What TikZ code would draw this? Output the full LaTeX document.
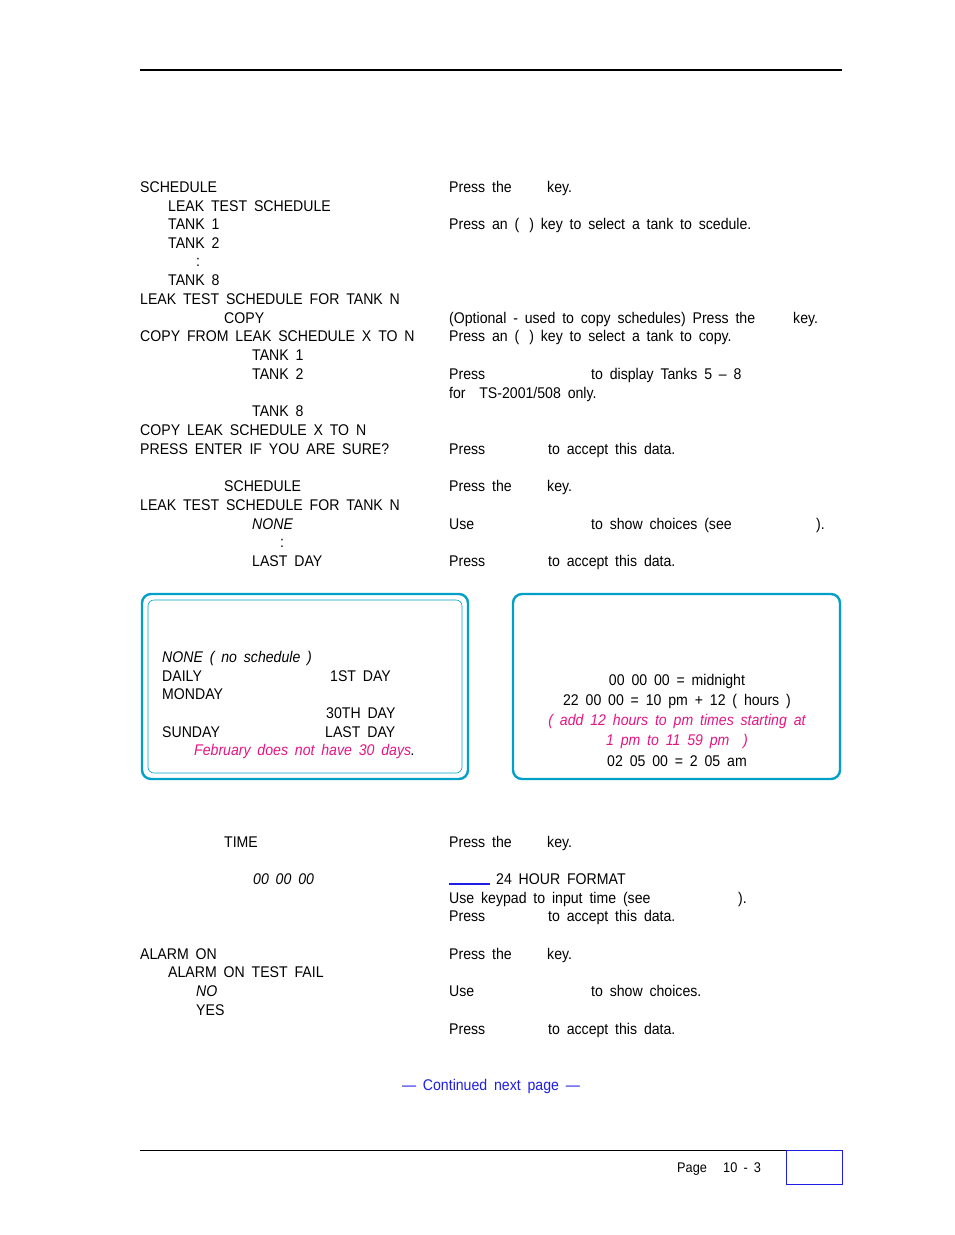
\documentclass[tikz,border=0pt]{standalone}
\usepackage{fontspec}
\setmainfont[FakeStretch=0.91,WordSpace={1.75,0,0}]{Liberation Sans}
\usepackage{xcolor}
\definecolor{boxcyan}{RGB}{0,160,200}
\definecolor{notepink}{RGB}{230,20,130}
\definecolor{linkblue}{RGB}{30,30,230}
\begin{document}
\begin{tikzpicture}[x=1pt,y=-1pt,every node/.style={anchor=base west,inner sep=0pt,font=\fontsize{15.5}{18}\selectfont}]
        \useasboundingbox (0,0) rectangle (954,1235);
        \draw[line width=1.6pt] (140,70) -- (842,70);
        % schedule key
        \node (s1) at (140,192) {SCHEDULE};
        \node (s2) at (168,211) {LEAK TEST SCHEDULE};
        \node (s3) at (168,229) {TANK 1};
        \node (s4) at (168,248) {TANK 2};
        \node (s5) at (196,266) {:};
        \node (s6) at (168,285) {TANK 8};
        \node (s7) at (140,304) {LEAK TEST SCHEDULE FOR TANK N};
        \node (s8) at (224,323) {COPY};
        \node (s9) at (140,341) {COPY FROM LEAK SCHEDULE X TO N};
        \node (s10) at (252,360) {TANK 1};
        \node (s11) at (252,379) {TANK 2};
        \node (s12) at (252,416) {TANK 8};
        \node (s13) at (140,435) {COPY LEAK SCHEDULE X TO N};
        \node (s14) at (140,454) {PRESS ENTER IF YOU ARE SURE?};
        \node (s15) at (224,491) {SCHEDULE};
        \node (s16) at (140,510) {LEAK TEST SCHEDULE FOR TANK N};
        \node (s17) at (252,529) {\itshape NONE};
        \node (s18) at (280,547) {:};
        \node (s19) at (252,566) {LAST DAY};
        % instructions
        \node (r1) at (449,192) {Press the}; \node (r1k) at (547,192) {key.};
        \node (r2) at (449,229) {Press an (\hspace{10pt}) key to select a tank to scedule.};
        \node (r3) at (449,323) {(Optional - used to copy schedules) Press the}; \node (r3k) at (793,323) {key.};
        \node (r4) at (449,341) {Press an (\hspace{10pt}) key to select a tank to copy.};
        \node (r5) at (449,379) {Press}; \node (r5k) at (591,379) {to display Tanks 5 -- 8};
        \node (r6) at (449,398) {for\ \ TS-2001/508 only.};
        \node (r7) at (449,454) {Press}; \node (r7k) at (548,454) {to accept this data.};
        \node (r8) at (449,491) {Press the}; \node (r8k) at (547,491) {key.};
        \node (r9) at (449,529) {Use}; \node (r9k) at (591,529) {to show choices (see}; \node (r9e) at (816,529) {).};
        \node (r10) at (449,566) {Press}; \node (r10k) at (548,566) {to accept this data.};
        % choice boxes
        \draw[boxcyan,line width=2.4pt,rounded corners=9pt] (142,594) rectangle (468,779);
        \draw[boxcyan,line width=0.6pt,rounded corners=6pt] (148,600) rectangle (462,773);
        \node (b1) at (162,662) {\itshape NONE ( no schedule )};
        \node (b2) at (162,681) {DAILY}; \node (b3) at (330,681) {1ST DAY};
        \node (b4) at (162,699) {MONDAY};
        \node (b5) at (326,718) {30TH DAY};
        \node (b6) at (162,737) {SUNDAY}; \node (b7) at (325,737) {LAST DAY};
        \node (b8) at (194,755) {\color{notepink}\itshape February does not have 30 days\color{black}.};
        \draw[boxcyan,line width=2.4pt,rounded corners=9pt] (513,594) rectangle (840,779);
        \node[anchor=base] (t1) at (677,685) {00 00 00 = midnight};
        \node[anchor=base] (t2) at (677,705) {22 00 00 = 10 pm + 12 ( hours )};
        \node[anchor=base,text=notepink,font=\fontsize{15.5}{18}\selectfont\itshape] (t3) at (677,725) {( add 12 hours to pm times starting at};
        \node[anchor=base,text=notepink,font=\fontsize{15.5}{18}\selectfont\itshape] (t4) at (677,745) {1 pm to 11 59 pm\ \ )};
        \node[anchor=base] (t5) at (677,766) {02 05 00 = 2 05 am};
        % time
        \node (m1) at (224,847) {TIME};
        \node (m2) at (253,884) {\itshape 00 00 00};
        \node (q1) at (449,847) {Press the}; \node (q1k) at (547,847) {key.};
        \draw[linkblue,line width=1.2pt] (449,884) -- (490,884);
        \node (q2) at (496,884) {24 HOUR FORMAT};
        \node (q3) at (449,903) {Use keypad to input time (see}; \node (q3e) at (738,903) {).};
        \node (q4) at (449,921) {Press}; \node (q4k) at (548,921) {to accept this data.};
        % alarm
        \node (a1) at (140,959) {ALARM ON};
        \node (a2) at (168,977) {ALARM ON TEST FAIL};
        \node (a3) at (196,996) {\itshape NO};
        \node (a4) at (196,1015) {YES};
        \node (p1) at (449,959) {Press the}; \node (p1k) at (547,959) {key.};
        \node (p2) at (449,996) {Use}; \node (p2k) at (591,996) {to show choices.};
        \node (p3) at (449,1034) {Press}; \node (p3k) at (548,1034) {to accept this data.};
        \node[anchor=base,text=linkblue] (cont) at (491,1090) {--- Continued next page ---};
        % footer
        \draw[line width=0.6pt] (140,1150) -- (842,1150);
        \node[font=\fontsize{14}{16}\selectfont] (pg) at (677,1172) {Page};
        \node[font=\fontsize{14}{16}\selectfont] (pgn) at (723,1172) {10 - 3};
        \draw[linkblue,line width=0.8pt] (786,1150) rectangle (842,1184);
\end{tikzpicture}
\end{document}
